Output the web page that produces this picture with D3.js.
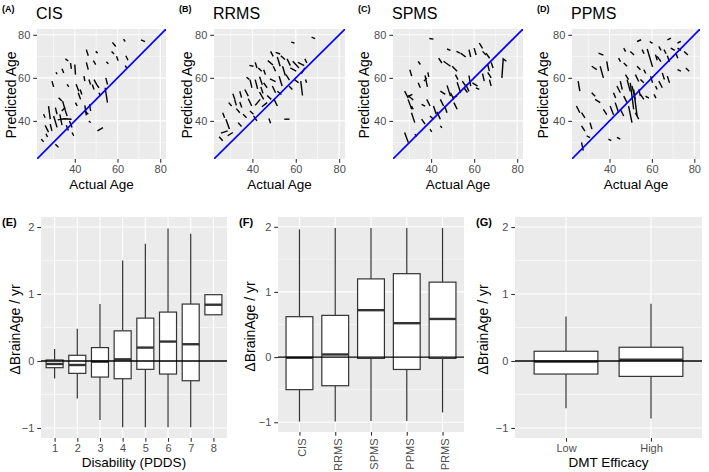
<!DOCTYPE html>
<html><head><meta charset="utf-8">
<script src="https://cdn.jsdelivr.net/npm/d3@7"></script>
<style>body{margin:0;background:#fff}</style>
</head><body><svg id="c" width="709" height="472"></svg>
<script>
// ---------- DATA ----------
// Longitudinal trajectories: [actual age, predicted age] points per subject
const cisTraj = [
[[57.6,76.5],[59.2,74.6]],[[62.8,78],[63.6,76.9]],[[71,77.7],[72.9,76.8]],[[45.4,73.1],[46.3,70.3]],
[[49.8,72.3],[50.7,71.5]],[[57.2,72.3],[58.4,71.1]],[[59.5,70],[60.3,68]],[[63.9,70.3],[64.9,68.2]],
[[35.6,68.8],[36.9,67.8]],[[38,66.9],[38.4,64.2]],[[40,66.2],[40.3,61.5]],[[45.4,67.2],[46.3,63.8]],
[[48.7,68],[49.8,66.2]],[[54.8,67.5],[55.7,66.5]],[[63.6,65.7],[64.3,64.6]],[[34,64.2],[34.8,62.3]],
[[31.2,62.6],[31.7,61.7]],[[29.3,58.5],[30.1,55.8]],[[36.4,57],[37.2,55.8]],[[40.6,57],[41.9,53.8]],
[[44.3,60.8],[44.7,58.5]],[[46.6,59.2],[47.4,56.9]],[[48.2,56.9],[49,54.6]],[[49,59.2],[50.2,57],[51.3,55.4]],
[[54.5,60],[55.3,56.9]],[[54.2,55.4],[55.3,48.5]],[[41.6,53.1],[42.7,50]],[[42.5,54.6],[43.3,52.3]],
[[32.4,50.8],[34,49.2]],[[34.3,49.2],[35.5,45],[36.4,42.3]],[[27.7,46.9],[28.5,40.8]],[[25.4,43.1],[26.1,41.5]],
[[30.9,46.2],[31.7,43.1]],[[30.1,42.3],[31.7,37]],[[32,40.5],[35,41],[38.5,40.8]],[[33,43],[34,38]],
[[37.5,40],[38.7,36.9]],[[26.1,37.9],[27.7,34.8]],[[24.3,31.5],[25.4,30.3]],[[30.9,29.2],[32.4,27.7]],
[[44.7,47.2],[45.4,42.6]],[[46.9,47.7],[47.4,44.6]],[[44.7,44.6],[46.3,43.1]],[[46.6,40],[47.4,39.2]],
[[38.7,34.6],[39.5,33.1]],[[50.6,35.4],[53.2,36.9]],[[51.3,53.1],[52.1,51.5]],[[40.3,48.5],[41.1,46.9]],
[[28.5,38.5],[29.3,35.4]],[[33.9,44.6],[35.5,46.2]],[[26.5,34],[27.2,32.5]],[[36,38],[37,35.5]]
];
const rrmsTraj = [
[[67.3,78.9],[68.9,78.2]],[[57.9,76.6],[59.4,76.2]],[[48.4,72.3],[49.6,70]],[[50.7,71.8],[52.8,71.1]],
[[53.1,70.3],[55,68.5]],[[41.3,67.2],[42.1,64.6]],[[38.6,65.8],[40.5,65.4]],[[47.1,68],[49.5,66]],
[[51.5,69.7],[52.8,65.4]],[[56,68.8],[57.5,65.7]],[[58.6,67.7],[61.5,64.6]],[[61,67.2],[63.9,65.7]],
[[57.5,64.6],[60.2,63.1]],[[64.2,68.8],[65.1,66.9]],[[62.6,62],[64.2,64.6]],[[53.9,65.4],[55.2,61.1]],
[[49.6,65.4],[50.7,63.1]],[[37.3,60.3],[38.6,59.2]],[[38.9,59.2],[39.8,55.4]],[[41.3,59.2],[42.4,54.9]],
[[43.3,60.5],[44.6,56.8]],[[45.2,57.7],[46.8,55.4]],[[48.1,59.5],[50.7,58.3]],[[52.3,60.8],[53.7,56.2]],
[[55.5,61.5],[57.1,58.9]],[[62.3,58.5],[63.1,51.8]],[[64.5,59.2],[65,57.7]],[[31,52.6],[31.9,50]],
[[29.1,48.5],[30.4,46.9]],[[26.3,43.8],[27.2,41.5]],[[24.7,32.6],[26.3,30.8]],[[25.5,34.3],[28.6,35.4]],
[[27.8,40.8],[29.4,36.2]],[[32.6,45.7],[34.2,43.8]],[[34.2,48.8],[35.1,46.2]],[[38.1,50.3],[39.7,46.9]],
[[41.3,47.2],[43.6,50]],[[43.3,53.4],[45.2,50]],[[44.4,46.6],[46.8,48.5]],[[35.7,43.1],[37.3,41.5]],
[[40.5,42.3],[42.1,40]],[[47.6,41.1],[48.4,38.9]],[[54.7,40.8],[57.1,40.8]],[[33.4,39.2],[35,37.4]],
[[28.6,33.1],[31,34.6]],[[38.9,44.6],[40.5,43.1]],[[43.9,55.8],[44.9,52.8]],[[49.2,56.2],[50.7,53.1]],
[[51.5,53.8],[53.4,52.3]],[[46.8,51.8],[48.7,50]],[[50,50],[51.5,46.9]],[[36.5,54.6],[38.1,51.5]],
[[31.8,50],[32.6,47.2]],[[59.4,59.2],[61.3,57.7]],[[56.9,56.2],[58.4,54.6]],[[45.2,63.8],[46,61.5]],
[[42.7,64.6],[44.3,63.1]],[[34.2,53.8],[35,50.8]]
];
const spmsTraj = [
[[39.2,78.3],[41.1,78]],[[47.4,73.4],[49,72.8]],[[51.8,72.3],[53.4,71.5]],[[53.7,71.5],[56.1,69.7]],
[[57.6,73.1],[58.4,69.7]],[[60,73.8],[60.9,70.6]],[[62.4,76.2],[63.9,73.7]],[[63.9,72.3],[65.5,70.6]],
[[65.5,71.5],[67.2,69.1]],[[43.5,69.2],[45,66.9]],[[45.8,67.7],[49,65.4]],[[49.8,65.4],[52.1,63.1]],
[[37.2,61.1],[37.8,58],[38.3,55.8]],[[34,67.7],[35,66.2]],[[30.1,63.8],[31,60.8]],[[34,57.7],[35,55.4]],
[[27.7,53.8],[29.4,50.6]],[[29.3,50],[31,45.4]],[[30.9,43.8],[32.4,39.2]],[[27.7,34.6],[29.4,30]],
[[32.4,33.8],[33.4,32.9]],[[39.5,42.3],[41.1,40.8]],[[42.7,44.2],[44.3,40.8]],[[44.3,50],[45.8,46.9]],
[[44.3,53.8],[46.6,52.3]],[[47.4,56.5],[49,51.5]],[[49,53.1],[50.6,50]],[[49.8,50.8],[52.1,51.5]],
[[50.6,48.5],[52.1,45.4]],[[52.1,58],[53.7,53.1]],[[54.5,58.5],[56.1,56.2]],[[56.1,56.9],[57.6,53.7]],
[[57.6,61.1],[58.4,56.2]],[[59.2,57.7],[61.6,56.2]],[[60.8,55.4],[62.4,54.6]],[[63.9,62],[64.7,58.5]],
[[66.3,62.6],[67.9,60]],[[67.9,67.2],[68.8,64.6]],[[66.3,66.2],[67.1,63.1]],[[72.9,60],[73.5,68.8],[75,67.7]],
[[67.1,59.2],[67.9,56.2]],[[39.5,36.2],[40.3,34.9]],[[44.3,37.7],[45,36.8]],[[38,50],[39.5,46.9]],
[[35.6,47.7],[37.2,46.9]],[[29.3,51.8],[31.7,49.7]],[[29.6,51.5],[31.3,52.3]],[[36.7,58.5],[38,60]],
[[46.3,46.9],[47.4,43.8]],[[41.1,46.9],[42.4,43.1]],[[35.6,40.8],[37.2,38.5]],[[51.3,61.5],[52.5,59.2]],
[[55.3,55.4],[56.9,53.1]],[[31.7,45.4],[30.9,46.9]],[[38.5,62.5],[38.9,60.5]]
];
const ppmsTraj = [
[[53,76.9],[54.9,77.7]],[[59,76.9],[60.3,76]],[[67.3,77.7],[69,78.5]],[[72.1,76.2],[73.7,76.9]],
[[63.3,74.6],[64.3,72.8]],[[65.7,73.1],[66.7,71.2]],[[68.9,73.8],[70.8,72.8]],[[72.1,73.8],[73.7,72.8]],
[[34.8,71.5],[37.1,70.6]],[[46.7,73.8],[47.6,72.2]],[[49.8,72.3],[51.6,70.6]],[[55.4,73.1],[56.3,71.2]],
[[57.8,73.4],[60.3,65.1]],[[61.7,70.8],[62.5,68.2]],[[62.5,70],[64.3,67.5]],[[67.3,70.3],[68.3,67.5]],
[[71.3,71.5],[72.2,69.1]],[[75.2,72.3],[77,70.6]],[[44.3,69.2],[45.2,67.5]],[[46.7,66.9],[48.3,65.4]],
[[38.7,67.7],[39.5,63.1]],[[35.6,65.4],[37.1,60]],[[31.6,65.4],[34,63.8]],[[53,65.4],[54.6,63.8]],
[[56.2,63.8],[57.1,62]],[[52.2,61.5],[53.8,58.3]],[[48.3,59.2],[49.8,53.7]],[[49.8,57.7],[51.4,45.4]],
[[51.4,54.6],[53,42.3]],[[45.1,58.5],[46,54.6]],[[43.5,56.2],[45.1,53.1]],[[41.9,53.1],[42.9,50.6]],
[[46.7,51.5],[48.3,48.5]],[[54.6,59.2],[56.2,57.7]],[[59.4,60.8],[60.3,57.7]],[[64.9,62.3],[65.9,59.2]],
[[63.3,58.5],[64.9,55.4]],[[67.3,60.8],[68.3,57.7]],[[72.1,63.8],[73.7,63.1]],[[76,64.6],[77.6,63.1]],
[[25.2,58.5],[26,53.8]],[[24.4,46.9],[26,43.8]],[[26.8,43.8],[28.4,41.4]],[[26.8,37.7],[28.4,35.2]],
[[26.8,30],[27.6,26.2]],[[29.2,33.1],[30.8,32.2]],[[30.8,39.2],[31.7,36.2]],[[31.6,53.1],[33.2,51.5]],
[[33.2,50],[35.6,48.5]],[[37.1,45.4],[38.7,42.9]],[[40.3,46.9],[41.9,42.9]],[[42.7,48.5],[44.3,43.8]],
[[45.1,45.4],[46.7,42.3]],[[49,46.9],[50.6,39.2]],[[52.2,43.8],[53.8,40.8]],[[39.5,31.5],[40.8,30.8]],
[[43.5,32.3],[45.1,31.5]],[[54.6,52.3],[56.2,50]],[[57,51.5],[58.6,50.6]],[[61.7,56.2],[62.5,54.6]],
[[61,52.3],[61.9,50.6]],[[47.5,61.5],[49,59.2]],[[50.6,56.2],[52.2,50]],[[53.8,54.6],[54.6,51.5]]
];
const ageTicks = [40, 60, 80];
const ageMinor = [30, 50, 70];

// Box-plot summaries: lower whisker, Q1, median, Q3, upper whisker
const pddsCats = ["1","2","3","4","5","6","7","8"];
const pddsLow  = [-0.26,-0.56,-0.88,-0.99,-0.99,-0.99,-0.99,0.69];
const pddsQ1   = [-0.10,-0.185,-0.24,-0.265,-0.125,-0.195,-0.295,0.69];
const pddsMed  = [-0.045,-0.06,-0.01,0.025,0.20,0.29,0.25,0.84];
const pddsQ3   = [0.015,0.085,0.20,0.45,0.64,0.73,0.85,0.99];
const pddsHigh = [0.18,0.48,0.85,1.50,1.75,1.98,1.90,0.99];

const msCats = ["CIS","RRMS","SPMS","PPMS","PRMS"];
const msLow  = [-0.99,-0.99,-0.98,-0.98,-0.85];
const msQ1   = [-0.50,-0.44,-0.02,-0.19,-0.02];
const msMed  = [-0.01,0.04,0.72,0.52,0.585];
const msQ3   = [0.62,0.64,1.20,1.28,1.15];
const msHigh = [1.96,1.98,1.98,1.98,1.98];

const dmtCats = ["Low","High"];
const dmtLow  = [-0.705,-0.86];
const dmtQ1   = [-0.195,-0.23];
const dmtMed  = [-0.01,0.02];
const dmtQ3   = [0.145,0.205];
const dmtHigh = [0.665,0.855];

const deltaTicks = [-1, 0, 1, 2];
const deltaMinor = [-0.5, 0.5, 1.5];

// ---------- DRAW ----------
const FONT = "'Liberation Sans', Arial, Helvetica, sans-serif";
const svg = d3.select("#c").style("font-family", FONT);
svg.append("rect").attr("width",709).attr("height",472).attr("fill","#fff");
const BG = "#EBEBEB", TICKC = "#333333", LABC = "#4D4D4D";

function styleAxis(a) {
  a.select(".domain").remove();
  a.selectAll(".tick line").attr("stroke", TICKC).attr("stroke-width", 1.1);
  a.selectAll(".tick text").attr("fill", LABC).style("font-size", "11px").style("font-family", FONT);
}

let clipN = 0;
function scatterPanel(x0, x1, traj, letter, title, ytOff) {
  const y0 = 29, y1 = 159;
  const dom = [22.3, 82.7];
  const xs = d3.scaleLinear().domain(dom).range([x0, x1]);
  const ys = d3.scaleLinear().domain(dom).range([y1, y0]);
  const g = svg.append("g");
  g.append("rect").attr("x", x0).attr("y", y0).attr("width", x1 - x0).attr("height", y1 - y0).attr("fill", BG);
  ageMinor.forEach(v => {
    g.append("line").attr("x1", xs(v)).attr("x2", xs(v)).attr("y1", y0).attr("y2", y1).attr("stroke", "#fff").attr("stroke-width", 0.55);
    g.append("line").attr("y1", ys(v)).attr("y2", ys(v)).attr("x1", x0).attr("x2", x1).attr("stroke", "#fff").attr("stroke-width", 0.55);
  });
  ageTicks.forEach(v => {
    g.append("line").attr("x1", xs(v)).attr("x2", xs(v)).attr("y1", y0).attr("y2", y1).attr("stroke", "#fff").attr("stroke-width", 1.1);
    g.append("line").attr("y1", ys(v)).attr("y2", ys(v)).attr("x1", x0).attr("x2", x1).attr("stroke", "#fff").attr("stroke-width", 1.1);
  });
  const id = "clip" + (clipN++);
  svg.append("clipPath").attr("id", id).append("rect").attr("x", x0).attr("y", y0).attr("width", x1 - x0).attr("height", y1 - y0);
  const pg = g.append("g").attr("clip-path", `url(#${id})`);
  const line = d3.line().x(d => xs(d[0])).y(d => ys(d[1]));
  pg.selectAll("path.traj").data(traj).join("path").attr("class", "traj")
    .attr("d", line).attr("fill", "none").attr("stroke", "#000").attr("stroke-width", 1.4);
  pg.append("path").attr("d", line([[dom[0], dom[0]], [dom[1], dom[1]]]))
    .attr("stroke", "#0000FF").attr("stroke-width", 1.6).attr("fill", "none");
  const ax = g.append("g").attr("transform", `translate(0,${y1})`)
    .call(d3.axisBottom(xs).tickValues(ageTicks).tickSize(3.7).tickPadding(2.5));
  styleAxis(ax);
  const ay = g.append("g").attr("transform", `translate(${x0},0)`)
    .call(d3.axisLeft(ys).tickValues(ageTicks).tickSize(3.7).tickPadding(3));
  styleAxis(ay);
  g.append("text").attr("x", (x0 + x1) / 2).attr("y", 188.5).attr("text-anchor", "middle")
    .style("font-size", "13.5px").text("Actual Age");
  g.append("text").attr("transform", `translate(${x0 - ytOff},${(y0 + y1) / 2 + 1}) rotate(-90)`)
    .attr("text-anchor", "middle").style("font-size", "14px").text("Predicted Age");
  g.append("text").attr("x", x0 - 35).attr("y", 11.5).style("font-size", "9px").style("font-weight", "bold").text(letter);
  g.append("text").attr("x", x0 - 1).attr("y", 19).style("font-size", "16px").text(title);
}

scatterPanel(37, 166, cisTraj, "(A)", "CIS", 21.5);
scatterPanel(214, 345, rrmsTraj, "(B)", "RRMS", 22.5);
scatterPanel(393, 523, spmsTraj, "(C)", "SPMS", 24);
scatterPanel(572, 700, ppmsTraj, "(D)", "PPMS", 24);

function boxPanel(x0, x1, y1, cats, lo, q1, med, q3, hi, letter, xTitle, ytOff, rotate) {
  const y0 = 217;
  const ys = d3.scaleLinear().domain([-1.15, 2.15]).range([y1, y0]);
  const xs = d3.scalePoint().domain(cats).range([x0, x1]).padding(0.6);
  const bw = xs.step() * 0.75;
  const g = svg.append("g");
  g.append("rect").attr("x", x0).attr("y", y0).attr("width", x1 - x0).attr("height", y1 - y0).attr("fill", BG);
  deltaMinor.forEach(v => g.append("line").attr("y1", ys(v)).attr("y2", ys(v)).attr("x1", x0).attr("x2", x1).attr("stroke", "#fff").attr("stroke-width", 0.55));
  deltaTicks.forEach(v => g.append("line").attr("y1", ys(v)).attr("y2", ys(v)).attr("x1", x0).attr("x2", x1).attr("stroke", "#fff").attr("stroke-width", 1.1));
  cats.forEach(c => g.append("line").attr("x1", xs(c)).attr("x2", xs(c)).attr("y1", y0).attr("y2", y1).attr("stroke", "#fff").attr("stroke-width", 1.1));
  const data = cats.map((c, i) => ({c, lo: lo[i], q1: q1[i], med: med[i], q3: q3[i], hi: hi[i]}));
  const b = g.selectAll("g.box").data(data).join("g").attr("class", "box");
  b.append("line").attr("x1", d => xs(d.c)).attr("x2", d => xs(d.c)).attr("y1", d => ys(d.hi)).attr("y2", d => ys(d.q3)).attr("stroke", TICKC).attr("stroke-width", 1.2);
  b.append("line").attr("x1", d => xs(d.c)).attr("x2", d => xs(d.c)).attr("y1", d => ys(d.q1)).attr("y2", d => ys(d.lo)).attr("stroke", TICKC).attr("stroke-width", 1.2);
  b.append("rect").attr("x", d => xs(d.c) - bw / 2).attr("width", bw).attr("y", d => ys(d.q3)).attr("height", d => ys(d.q1) - ys(d.q3))
    .attr("fill", "#fff").attr("stroke", TICKC).attr("stroke-width", 1.2);
  b.append("line").attr("x1", d => xs(d.c) - bw / 2).attr("x2", d => xs(d.c) + bw / 2).attr("y1", d => ys(d.med)).attr("y2", d => ys(d.med)).attr("stroke", TICKC).attr("stroke-width", 2.4);
  g.append("line").attr("x1", x0).attr("x2", x1).attr("y1", ys(0)).attr("y2", ys(0)).attr("stroke", "#000").attr("stroke-width", 1.3);
  const ax = g.append("g").attr("transform", `translate(0,${y1})`)
    .call(d3.axisBottom(xs).tickSize(3.7).tickPadding(2.5));
  styleAxis(ax);
  if (rotate) {
    ax.selectAll(".tick text").attr("transform", "rotate(-90)").attr("text-anchor", "end")
      .attr("x", -6.5).attr("y", 2.5).attr("dy", "0.35em");
  }
  const ay = g.append("g").attr("transform", `translate(${x0},0)`)
    .call(d3.axisLeft(ys).tickValues(deltaTicks).tickSize(3.7).tickPadding(3).tickFormat(d3.format("d")));
  styleAxis(ay);
  ay.selectAll(".tick text").text(d => d < 0 ? "\u2212" + Math.abs(d) : d);
  if (xTitle) g.append("text").attr("x", (x0 + x1) / 2).attr("y", 467).attr("text-anchor", "middle").style("font-size", "13.5px").text(xTitle);
  g.append("text").attr("transform", `translate(${x0 - ytOff},${(y0 + y1) / 2 + 2}) rotate(-90)`)
    .attr("text-anchor", "middle").style("font-size", "14px").text("\u0394BrainAge / yr");
  g.append("text").attr("x", x0 - 39).attr("y", 226).style("font-size", "11px").style("font-weight", "bold").text(letter);
}

boxPanel(41, 227, 438, pddsCats, pddsLow, pddsQ1, pddsMed, pddsQ3, pddsHigh, "(E)", "Disability (PDDS)", 21.5, false);
boxPanel(278, 464, 432, msCats, msLow, msQ1, msMed, msQ3, msHigh, "(F)", null, 23.5, true);
boxPanel(515, 702, 438, dmtCats, dmtLow, dmtQ1, dmtMed, dmtQ3, dmtHigh, "(G)", "DMT Efficacy", 27.5, false);
</script></body></html>
